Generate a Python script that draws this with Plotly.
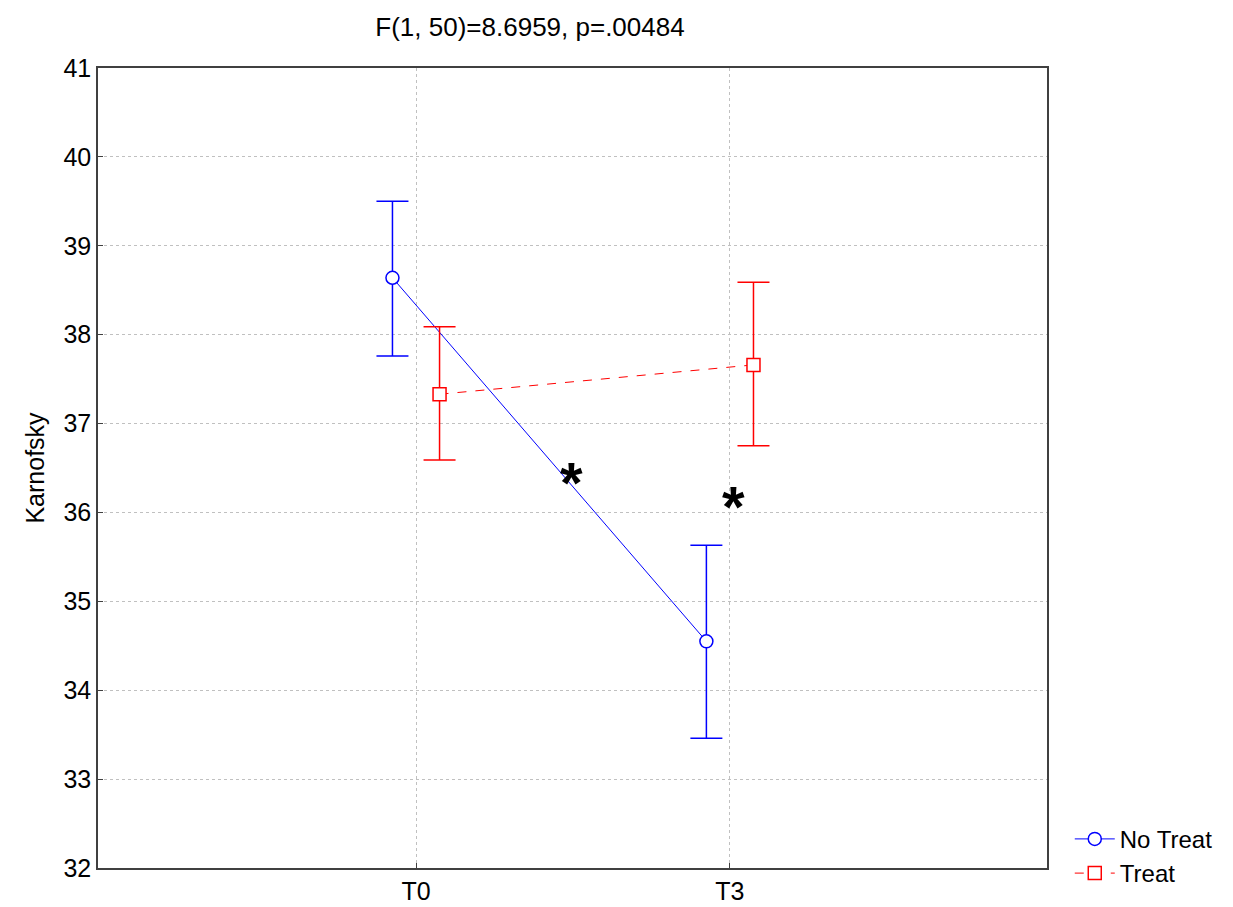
import plotly.graph_objects as go

# Time points and group means with 95% CI bounds
timepoints = ["T0", "T3"]
time_pos = [0, 1]
groups = ["No Treat", "Treat"]
no_treat_mean = [38.64, 34.55]
no_treat_upper = [39.50, 35.63]
no_treat_lower = [37.76, 33.46]
treat_mean = [37.33, 37.66]
treat_upper = [38.09, 38.59]
treat_lower = [36.59, 36.75]

# Significance markers
star_x = [0.495, 1.01]
star_y = [36.40, 36.14]

title_text = "F(1, 50)=8.6959, p=.00484"
y_title = "Karnofsky"
y_ticks = list(range(32, 42))

FONT = "Liberation Sans, Arial, sans-serif"
dodge = 0.075

def series(name, means, upper, lower, shift, color, dash, symbol):
    return go.Scatter(
        x=[p + shift for p in time_pos],
        y=means,
        name=name,
        mode="lines+markers",
        line=dict(color=color, width=1, dash=dash),
        marker=dict(symbol=symbol, size=13, color="white",
                    line=dict(color=color, width=1.5)),
        error_y=dict(type="data", symmetric=False,
                     array=[u - m for u, m in zip(upper, means)],
                     arrayminus=[m - l for m, l in zip(means, lower)],
                     color=color, thickness=1.5, width=16),
    )

fig = go.Figure()
fig.add_trace(series(groups[0], no_treat_mean, no_treat_upper, no_treat_lower,
                     -dodge, "#0000ff", "solid", "circle"))
fig.add_trace(series(groups[1], treat_mean, treat_upper, treat_lower,
                     dodge, "#ff0000", "dash", "square"))

# asterisk glyph sits high in its text box, so nudge it down onto the point
for sx, sy in zip(star_x, star_y):
    fig.add_annotation(x=sx, y=sy, xref="x", yref="y", text="<b>*</b>",
                       showarrow=False, yanchor="middle", yshift=-6,
                       font=dict(size=58, color="black", family=FONT))

grid = dict(showgrid=True, gridcolor="#c0c0c0", griddash="dot", gridwidth=1)
fig.update_xaxes(
    range=[-1.013, 2.01], tickvals=time_pos, ticktext=timepoints,
    ticks="inside", ticklen=5, tickcolor="#404040",
    showline=True, linecolor="#404040", linewidth=1.5, mirror=True,
    zeroline=False, tickfont=dict(size=25, color="black", family=FONT), **grid,
)
fig.update_yaxes(
    range=[32, 41], tickvals=y_ticks,
    ticks="inside", ticklen=5, tickcolor="#404040",
    showline=True, linecolor="#404040", linewidth=1.5, mirror=True,
    zeroline=False, tickfont=dict(size=25, color="black", family=FONT),
    title=dict(text=y_title, font=dict(size=25, color="black", family=FONT), standoff=12),
    **grid,
)

fig.update_layout(
    width=1233, height=907,
    margin=dict(l=98, r=186, t=68, b=39, autoexpand=False),
    paper_bgcolor="white", plot_bgcolor="white",
    font=dict(family=FONT),
    title=dict(text=title_text, xref="container", yref="container",
               x=530 / 1233, y=1 - 27 / 907, xanchor="center", yanchor="middle",
               font=dict(size=26, color="black", family=FONT)),
    legend=dict(x=1.024, y=0.064, xanchor="left", yanchor="top",
                font=dict(size=24, color="black", family=FONT),
                bgcolor="rgba(0,0,0,0)", tracegroupgap=0, itemwidth=40),
)

fig.write_html("out.html")
